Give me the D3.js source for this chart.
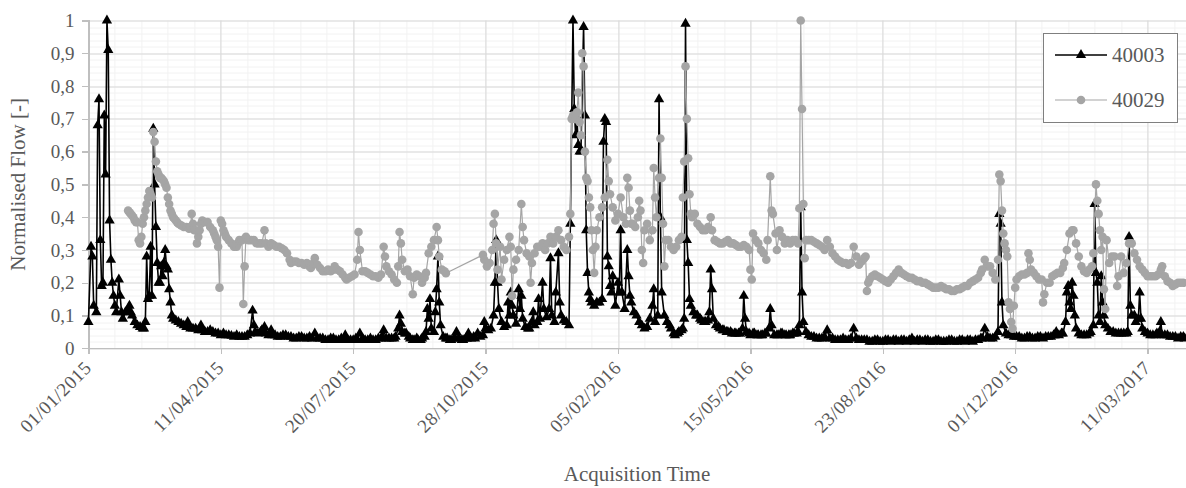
<!DOCTYPE html>
<html>
<head>
<meta charset="utf-8">
<script src="https://cdn.jsdelivr.net/npm/d3@7"></script>
<style>
  html, body { margin: 0; padding: 0; background: #fff; }
  svg { display: block; }
</style>
</head>
<body>
<div id="chart"></div>
<script>
// series names and x axis tick labels (dd/mm/yyyy)
const seriesNames = ["40003", "40029"];
const xTickLabels = ["01/01/2015", "11/04/2015", "20/07/2015", "28/10/2015", "05/02/2016",
  "15/05/2016", "23/08/2016", "01/12/2016", "11/03/2017"];
const yTickValues = [0, 0.1, 0.2, 0.3, 0.4, 0.5, 0.6, 0.7, 0.8, 0.9, 1];
const startLabel = "01/01/2015";
const endLabel = "09/04/2017";

// [days since 01/01/2015, normalised flow]
const flow40003 = [[0,0.08],[2,0.31],[3,0.28],[4,0.13],[6,0.11],[7,0.68],[8,0.76],[9,0.33],[10,0.19],[11,0.2],
  [12,0.71],[13,0.53],[14,1.0],[15,0.91],[16,0.39],[17,0.27],[18,0.2],[19,0.16],[20,0.13],[21,0.11],[23,0.21],
  [24,0.16],[25,0.11],[26,0.09],[28,0.11],[30,0.12],[31,0.13],[32,0.11],[33,0.1],[35,0.08],[37,0.07],[39,0.065],
  [41,0.06],[42,0.06],[43,0.08],[44,0.28],[45,0.15],[46,0.16],[47,0.31],[48,0.16],[49,0.67],[50,0.5],[51,0.37],
  [52,0.26],[53,0.2],[54,0.2],[55,0.25],[56,0.22],[57,0.26],[58,0.3],[59,0.25],[60,0.24],[61,0.18],[62,0.14],
  [63,0.1],[64,0.09],[66,0.085],[68,0.08],[70,0.075],[72,0.07],[74,0.065],[75,0.08],[77,0.06],[79,0.06],[81,0.06],
  [83,0.055],[85,0.07],[86,0.055],[88,0.05],[90,0.05],[92,0.055],[94,0.05],[96,0.045],[98,0.045],[100,0.04],
  [102,0.045],[104,0.04],[106,0.04],[108,0.038],[110,0.035],[112,0.04],[114,0.035],[116,0.035],[118,0.035],
  [120,0.04],[122,0.045],[124,0.115],[125,0.07],[126,0.05],[128,0.045],[130,0.05],[131,0.055],[133,0.065],
  [134,0.045],[136,0.04],[138,0.055],[139,0.04],[141,0.04],[143,0.035],[145,0.035],[147,0.04],[149,0.04],
  [151,0.035],[153,0.035],[155,0.03],[157,0.03],[159,0.035],[161,0.035],[163,0.03],[165,0.03],[167,0.035],
  [169,0.03],[171,0.045],[173,0.03],[175,0.03],[177,0.03],[179,0.025],[181,0.025],[183,0.03],[185,0.03],
  [187,0.025],[189,0.025],[191,0.03],[193,0.025],[194,0.04],[196,0.025],[198,0.025],[200,0.025],[202,0.03],
  [203,0.025],[205,0.045],[207,0.03],[209,0.025],[211,0.025],[213,0.03],[215,0.025],[217,0.025],[219,0.03],
  [221,0.03],[222,0.035],[223,0.055],[225,0.03],[227,0.03],[229,0.03],[231,0.03],[232,0.035],[234,0.06],
  [235,0.1],[236,0.075],[237,0.05],[239,0.045],[240,0.045],[242,0.035],[243,0.03],[245,0.025],[246,0.025],
  [248,0.03],[249,0.025],[251,0.025],[252,0.03],[254,0.035],[255,0.05],[256,0.12],[257,0.09],[258,0.15],
  [259,0.06],[261,0.05],[262,0.11],[263,0.18],[264,0.28],[265,0.14],[266,0.07],[268,0.035],[270,0.03],[271,0.03],
  [273,0.025],[274,0.025],[276,0.03],[277,0.03],[278,0.05],[280,0.03],[282,0.025],[283,0.025],[285,0.03],
  [286,0.03],[287,0.045],[289,0.03],[291,0.035],[292,0.03],[294,0.045],[296,0.035],[298,0.04],[299,0.08],
  [300,0.06],[302,0.055],[304,0.06],[306,0.1],[307,0.2],[308,0.33],[309,0.2],[310,0.12],[312,0.08],[314,0.065],
  [316,0.07],[317,0.14],[318,0.1],[319,0.17],[320,0.13],[321,0.1],[323,0.075],[325,0.18],[326,0.12],[327,0.16],
  [328,0.09],[330,0.065],[332,0.06],[333,0.06],[335,0.08],[336,0.11],[337,0.07],[339,0.08],[340,0.15],[341,0.09],
  [343,0.2],[344,0.12],[346,0.095],[348,0.12],[349,0.275],[350,0.1],[352,0.08],[353,0.17],[355,0.29],[356,0.14],
  [357,0.1],[359,0.085],[361,0.08],[363,0.07],[364,0.38],[366,1.0],[367,0.73],[368,0.65],[369,0.7],[370,0.62],
  [371,0.6],[372,0.6],[374,0.98],[375,0.71],[376,0.36],[377,0.23],[378,0.17],[379,0.15],[380,0.14],[382,0.13],
  [384,0.14],[386,0.14],[388,0.15],[389,0.63],[390,0.7],[391,0.69],[392,0.28],[393,0.25],[394,0.19],[395,0.17],
  [396,0.22],[398,0.13],[400,0.2],[401,0.17],[402,0.36],[403,0.17],[405,0.12],[407,0.3],[408,0.22],[409,0.16],
  [410,0.14],[412,0.11],[414,0.1],[416,0.08],[418,0.07],[420,0.06],[422,0.065],[424,0.09],[426,0.13],[427,0.18],
  [428,0.08],[430,0.1],[431,0.76],[432,0.4],[433,0.17],[435,0.1],[437,0.08],[439,0.07],[440,0.06],[442,0.045],
  [443,0.04],[445,0.045],[446,0.05],[448,0.055],[449,0.06],[450,0.09],[451,0.99],[452,0.33],[453,0.26],[454,0.15],
  [455,0.13],[457,0.11],[459,0.1],[460,0.1],[462,0.09],[463,0.085],[465,0.08],[466,0.08],[468,0.085],[469,0.11],
  [470,0.24],[471,0.18],[472,0.09],[474,0.07],[476,0.065],[477,0.06],[479,0.055],[480,0.055],[482,0.05],[483,0.05],
  [485,0.05],[486,0.045],[488,0.045],[489,0.045],[491,0.045],[492,0.045],[494,0.06],[495,0.16],[496,0.09],
  [497,0.05],[499,0.045],[500,0.04],[502,0.045],[503,0.045],[505,0.04],[506,0.04],[508,0.04],[509,0.04],
  [511,0.045],[512,0.045],[514,0.06],[515,0.12],[516,0.07],[518,0.04],[520,0.04],[521,0.04],[523,0.045],
  [524,0.045],[526,0.04],[527,0.04],[529,0.04],[530,0.04],[532,0.045],[533,0.045],[535,0.045],[536,0.05],
  [537,0.07],[538,0.43],[539,0.17],[540,0.08],[542,0.05],[544,0.04],[546,0.035],[548,0.035],[550,0.03],
  [552,0.03],[554,0.03],[556,0.035],[558,0.055],[560,0.03],[562,0.03],[564,0.025],[566,0.025],[568,0.025],
  [570,0.03],[572,0.025],[574,0.025],[576,0.03],[578,0.06],[580,0.03],[582,0.025],[584,0.025],[586,0.025],
  [588,0.025],[590,0.02],[592,0.02],[594,0.025],[596,0.025],[598,0.02],[600,0.02],[602,0.025],[604,0.025],
  [606,0.02],[608,0.025],[610,0.025],[612,0.02],[614,0.025],[616,0.025],[618,0.02],[620,0.025],[622,0.03],
  [624,0.02],[626,0.025],[628,0.025],[630,0.02],[632,0.025],[634,0.025],[636,0.02],[638,0.02],[640,0.025],
  [642,0.025],[644,0.02],[646,0.02],[648,0.02],[650,0.025],[652,0.025],[654,0.02],[656,0.02],[658,0.025],
  [660,0.025],[662,0.02],[664,0.025],[666,0.025],[668,0.02],[670,0.025],[672,0.025],[674,0.03],[675,0.03],
  [677,0.06],[679,0.035],[681,0.03],[683,0.03],[685,0.035],[687,0.05],[688,0.41],[689,0.38],[690,0.14],[691,0.07],
  [693,0.045],[695,0.04],[697,0.04],[699,0.035],[701,0.035],[703,0.035],[705,0.03],[707,0.03],[709,0.035],
  [711,0.035],[713,0.03],[715,0.03],[717,0.035],[719,0.035],[721,0.03],[723,0.035],[725,0.035],[727,0.035],
  [729,0.04],[730,0.04],[731,0.05],[733,0.04],[735,0.045],[736,0.045],[738,0.08],[739,0.17],[740,0.19],[741,0.14],
  [742,0.12],[743,0.2],[744,0.16],[745,0.1],[746,0.06],[748,0.045],[750,0.04],[752,0.04],[754,0.04],[756,0.045],
  [757,0.05],[759,0.07],[760,0.44],[761,0.23],[762,0.2],[763,0.1],[764,0.08],[765,0.22],[766,0.14],[767,0.1],
  [768,0.07],[770,0.06],[772,0.05],[774,0.05],[776,0.045],[778,0.045],[780,0.045],[782,0.045],[784,0.045],
  [785,0.05],[786,0.34],[787,0.13],[788,0.1],[790,0.1],[791,0.08],[793,0.09],[794,0.17],[795,0.09],[796,0.06],
  [798,0.05],[800,0.045],[802,0.04],[804,0.04],[806,0.04],[807,0.045],[809,0.05],[810,0.08],[811,0.04],[813,0.04],
  [815,0.04],[817,0.035],[819,0.035],[821,0.035],[823,0.03],[825,0.035],[827,0.035],[828,0.03]];

const flow40029 = [[30,0.42],[31,0.415],[32,0.41],[33,0.405],[34,0.4],[35,0.39],[36,0.385],[37,0.385],[38,0.33],
  [39,0.32],[40,0.34],[41,0.38],[42,0.4],[43,0.42],[44,0.44],[45,0.46],[46,0.48],[47,0.47],[48,0.46],[49,0.66],
  [50,0.63],[51,0.57],[52,0.54],[53,0.53],[54,0.52],[55,0.52],[56,0.515],[57,0.51],[58,0.5],[59,0.49],[60,0.46],
  [61,0.44],[62,0.42],[63,0.41],[64,0.4],[65,0.395],[66,0.39],[67,0.385],[68,0.38],[70,0.375],[72,0.37],[74,0.37],
  [76,0.365],[77,0.37],[78,0.41],[79,0.38],[80,0.36],[81,0.36],[82,0.32],[83,0.34],[84,0.36],[85,0.38],[86,0.39],
  [88,0.385],[90,0.385],[92,0.37],[94,0.36],[95,0.35],[96,0.34],[97,0.33],[98,0.31],[99,0.185],[100,0.39],
  [101,0.38],[102,0.36],[103,0.35],[104,0.34],[106,0.33],[108,0.32],[110,0.31],[112,0.31],[113,0.32],[114,0.33],
  [116,0.33],[117,0.135],[118,0.25],[119,0.34],[121,0.33],[123,0.33],[125,0.33],[127,0.32],[129,0.32],[131,0.32],
  [133,0.36],[134,0.32],[136,0.31],[138,0.32],[140,0.315],[142,0.31],[144,0.31],[146,0.305],[148,0.3],[150,0.29],
  [152,0.27],[153,0.26],[155,0.265],[157,0.265],[159,0.26],[161,0.26],[163,0.255],[165,0.26],[167,0.25],
  [168,0.245],[170,0.26],[171,0.275],[173,0.255],[175,0.245],[177,0.235],[179,0.235],[181,0.24],[183,0.235],
  [185,0.24],[186,0.25],[188,0.24],[190,0.235],[192,0.225],[194,0.215],[195,0.21],[197,0.215],[199,0.22],
  [201,0.225],[203,0.27],[204,0.355],[205,0.3],[207,0.235],[209,0.235],[211,0.23],[213,0.225],[215,0.22],
  [217,0.22],[219,0.215],[221,0.225],[223,0.31],[224,0.28],[225,0.25],[227,0.235],[229,0.225],[231,0.21],
  [233,0.2],[234,0.25],[235,0.355],[236,0.32],[237,0.27],[239,0.235],[241,0.24],[243,0.22],[245,0.165],
  [246,0.215],[248,0.225],[250,0.22],[252,0.2],[254,0.215],[255,0.23],[257,0.29],[259,0.31],[261,0.33],[263,0.37],
  [264,0.33],[265,0.28],[267,0.24],[269,0.235],[270,0.229],[298,0.285],[299,0.27],[301,0.25],[303,0.26],[305,0.3],
  [306,0.38],[307,0.41],[308,0.32],[309,0.24],[311,0.31],[312,0.21],[314,0.27],[316,0.3],[318,0.34],[319,0.31],
  [320,0.16],[321,0.24],[323,0.27],[325,0.3],[327,0.44],[328,0.37],[329,0.33],[331,0.29],[333,0.28],[334,0.2],
  [335,0.26],[337,0.29],[339,0.31],[341,0.31],[343,0.32],[345,0.3],[347,0.32],[349,0.34],[351,0.32],[353,0.34],
  [355,0.36],[357,0.33],[359,0.31],[361,0.3],[363,0.34],[364,0.41],[365,0.7],[366,0.71],[367,0.7],[368,0.7],
  [369,0.72],[370,0.78],[371,0.69],[372,0.65],[373,0.9],[374,0.86],[375,0.6],[376,0.52],[377,0.51],[378,0.46],
  [379,0.43],[380,0.36],[381,0.3],[382,0.23],[383,0.31],[384,0.36],[386,0.4],[388,0.43],[390,0.46],[392,0.575],
  [393,0.51],[394,0.47],[396,0.43],[398,0.39],[400,0.41],[402,0.46],[404,0.4],[406,0.38],[407,0.52],[408,0.49],
  [409,0.42],[410,0.38],[411,0.38],[413,0.37],[415,0.4],[416,0.45],[417,0.42],[418,0.3],[419,0.26],[420,0.36],
  [422,0.38],[424,0.33],[426,0.36],[427,0.55],[428,0.46],[429,0.4],[431,0.52],[432,0.64],[433,0.52],[434,0.38],
  [435,0.25],[436,0.33],[438,0.33],[440,0.31],[442,0.3],[444,0.31],[446,0.33],[448,0.34],[449,0.46],[450,0.57],
  [451,0.86],[452,0.7],[453,0.58],[454,0.47],[455,0.41],[456,0.4],[458,0.41],[460,0.38],[462,0.37],[464,0.36],
  [466,0.36],[468,0.37],[470,0.4],[471,0.36],[473,0.33],[475,0.325],[477,0.32],[479,0.32],[481,0.325],[483,0.33],
  [485,0.32],[487,0.32],[489,0.315],[491,0.31],[493,0.31],[495,0.315],[497,0.31],[499,0.3],[500,0.24],[501,0.21],
  [502,0.35],[504,0.33],[506,0.32],[508,0.3],[510,0.29],[512,0.27],[513,0.33],[515,0.525],[516,0.42],[517,0.41],
  [519,0.35],[520,0.3],[522,0.36],[524,0.34],[526,0.32],[528,0.33],[530,0.32],[532,0.33],[534,0.33],[536,0.32],
  [537,0.427],[538,1.0],[539,0.73],[540,0.44],[541,0.275],[542,0.33],[544,0.33],[546,0.33],[548,0.325],[550,0.32],
  [552,0.315],[554,0.31],[556,0.3],[558,0.33],[560,0.31],[562,0.29],[564,0.28],[566,0.27],[568,0.265],[570,0.26],
  [572,0.26],[574,0.255],[576,0.26],[578,0.31],[580,0.28],[582,0.255],[584,0.265],[586,0.275],[587,0.28],
  [588,0.175],[589,0.2],[590,0.21],[592,0.22],[594,0.225],[596,0.22],[598,0.215],[600,0.21],[602,0.205],[604,0.2],
  [606,0.21],[608,0.22],[610,0.23],[612,0.24],[614,0.23],[616,0.225],[618,0.22],[620,0.215],[622,0.215],[624,0.21],
  [626,0.205],[628,0.205],[630,0.2],[632,0.2],[634,0.195],[636,0.19],[638,0.185],[640,0.185],[642,0.185],
  [644,0.19],[646,0.185],[648,0.18],[650,0.18],[652,0.175],[654,0.175],[656,0.18],[658,0.18],[660,0.185],
  [662,0.19],[664,0.19],[666,0.2],[668,0.205],[670,0.21],[672,0.215],[674,0.23],[675,0.24],[677,0.27],[679,0.25],
  [681,0.25],[683,0.23],[685,0.21],[687,0.27],[688,0.53],[689,0.51],[690,0.42],[691,0.35],[692,0.32],[693,0.3],
  [694,0.28],[695,0.14],[696,0.12],[697,0.08],[698,0.06],[699,0.13],[700,0.185],[701,0.21],[703,0.22],[705,0.225],
  [707,0.225],[709,0.23],[710,0.29],[711,0.27],[712,0.24],[714,0.23],[716,0.22],[718,0.21],[720,0.21],[721,0.14],
  [722,0.165],[724,0.2],[726,0.2],[728,0.22],[730,0.225],[732,0.23],[734,0.23],[736,0.245],[737,0.26],[739,0.3],
  [741,0.35],[743,0.36],[744,0.36],[746,0.32],[748,0.28],[750,0.25],[752,0.235],[754,0.23],[756,0.24],[758,0.25],
  [759,0.29],[761,0.5],[762,0.45],[763,0.41],[764,0.36],[765,0.3],[766,0.34],[767,0.18],[768,0.12],[769,0.33],
  [771,0.26],[773,0.28],[775,0.28],[777,0.19],[778,0.22],[780,0.28],[782,0.23],[784,0.26],[786,0.32],[788,0.32],
  [790,0.29],[792,0.27],[794,0.25],[796,0.24],[798,0.23],[800,0.22],[802,0.22],[804,0.22],[806,0.22],[808,0.225],
  [810,0.24],[811,0.25],[813,0.22],[815,0.205],[817,0.2],[819,0.19],[821,0.195],[823,0.2],[825,0.2],[827,0.2]];

const parseDate = d3.utcParse("%d/%m/%Y");
const startDate = parseDate(startLabel);
const toPoints = rows => rows.map(r => ({ date: d3.utcDay.offset(startDate, r[0]), value: r[1] }));
const series = [
  { name: seriesNames[0], points: toPoints(flow40003), color: "#000000", lineWidth: 1.6, marker: "triangle" },
  { name: seriesNames[1], points: toPoints(flow40029), color: "#a5a5a5", lineWidth: 1.2, marker: "circle" }
];

// chart dimensions
const W = 1186, H = 488;
const margin = { top: 20.5, right: 0, bottom: 139.7, left: 88.4 };
const width = W - margin.left - margin.right;
const height = H - margin.top - margin.bottom;
const fontFamily = "'Liberation Serif', 'DejaVu Serif', serif";
const textColor = "#595959";

const svg = d3.select("#chart").append("svg")
  .attr("width", W)
  .attr("height", H);

const g = svg.append("g")
  .attr("transform", "translate(" + margin.left + "," + margin.top + ")");

const x = d3.scaleUtc()
  .domain([startDate, parseDate(endLabel)])
  .range([0, width]);

const y = d3.scaleLinear()
  .domain([0, 1])
  .range([height, 0]);

// minor gridlines (every 0.02 / 20 days)
const minorY = d3.range(0, 1.0001, 0.02);
const minorX = d3.utcDay.range(startDate, parseDate(endLabel), 1).filter((d, i) => i % 20 === 0);

g.selectAll("line.minor-h")
  .data(minorY)
  .enter().append("line")
  .attr("class", "minor-h")
  .attr("x1", 0).attr("x2", width)
  .attr("y1", d => Math.round(y(d)) + 0.5).attr("y2", d => Math.round(y(d)) + 0.5)
  .style("stroke", "#f2f2f2");

g.selectAll("line.minor-v")
  .data(minorX)
  .enter().append("line")
  .attr("class", "minor-v")
  .attr("x1", d => Math.round(x(d)) + 0.5).attr("x2", d => Math.round(x(d)) + 0.5)
  .attr("y1", 0).attr("y2", height)
  .style("stroke", "#f2f2f2");

// major gridlines
const xTickDates = xTickLabels.map(parseDate);

g.selectAll("line.major-h")
  .data(yTickValues)
  .enter().append("line")
  .attr("class", "major-h")
  .attr("x1", 0).attr("x2", width)
  .attr("y1", d => Math.round(y(d)) + 0.5).attr("y2", d => Math.round(y(d)) + 0.5)
  .style("stroke", "#d9d9d9");

g.selectAll("line.major-v")
  .data(xTickDates)
  .enter().append("line")
  .attr("class", "major-v")
  .attr("x1", d => Math.round(x(d)) + 0.5).attr("x2", d => Math.round(x(d)) + 0.5)
  .attr("y1", 0).attr("y2", height)
  .style("stroke", "#d9d9d9");

// axes
const yAxis = d3.axisLeft(y)
  .tickValues(yTickValues)
  .tickSize(6)
  .tickPadding(8)
  .tickFormat(d => d === 0 ? "0" : d === 1 ? "1" : d3.format(".1f")(d).replace(".", ","));

const xAxis = d3.axisBottom(x)
  .tickValues(xTickDates)
  .tickSize(6)
  .tickFormat(d3.utcFormat("%d/%m/%Y"));

const gy = g.append("g")
  .attr("class", "y axis")
  .call(yAxis);

const gx = g.append("g")
  .attr("class", "x axis")
  .attr("transform", "translate(0," + height + ")")
  .call(xAxis);

svg.selectAll(".axis path, .axis line")
  .style("stroke", "#bfbfbf")
  .style("stroke-width", "1.3px")
  .attr("shape-rendering", "crispEdges");

svg.selectAll(".axis").attr("font-family", fontFamily);

svg.selectAll(".axis text")
  .style("font-family", fontFamily)
  .style("font-size", "19px")
  .style("fill", textColor);

gx.selectAll(".tick text")
  .style("text-anchor", "end")
  .style("letter-spacing", "0.5px")
  .attr("x", 0)
  .attr("y", 0)
  .attr("dy", "0.35em")
  .attr("transform", "translate(-1,16) rotate(-45)");

// series lines and markers
const line = d3.line()
  .x(d => x(d.date))
  .y(d => y(d.value));

const triangle = d3.symbol().type(d3.symbolTriangle).size(46);

series.forEach(s => {
  g.append("path")
    .datum(s.points)
    .attr("fill", "none")
    .attr("stroke", s.color)
    .attr("stroke-width", s.lineWidth)
    .attr("stroke-linejoin", "round")
    .attr("d", line);

  if (s.marker === "triangle") {
    g.selectAll(".m" + s.name)
      .data(s.points)
      .enter().append("path")
      .attr("class", "m" + s.name)
      .attr("transform", d => "translate(" + x(d.date) + "," + y(d.value) + ")")
      .attr("d", triangle)
      .attr("fill", s.color);
  } else {
    g.selectAll(".m" + s.name)
      .data(s.points)
      .enter().append("circle")
      .attr("class", "m" + s.name)
      .attr("cx", d => x(d.date))
      .attr("cy", d => y(d.value))
      .attr("r", 4.3)
      .attr("fill", s.color);
  }
});

// axis titles
svg.append("text")
  .attr("transform", "translate(25," + (margin.top + height / 2) + ") rotate(-90)")
  .attr("text-anchor", "middle")
  .style("font-family", fontFamily)
  .style("font-size", "21px")
  .style("fill", textColor)
  .text("Normalised Flow [-]");

svg.append("text")
  .attr("x", 637)
  .attr("y", 481)
  .attr("text-anchor", "middle")
  .style("font-family", fontFamily)
  .style("font-size", "21px")
  .style("fill", textColor)
  .text("Acquisition Time");

// legend
const legend = svg.append("g").attr("class", "legend");

legend.append("rect")
  .attr("x", 1043.5).attr("y", 33.5)
  .attr("width", 134).attr("height", 89)
  .attr("fill", "#fff")
  .attr("stroke", "#7f7f7f");

series.forEach((s, i) => {
  const ly = 55 + i * 45;
  legend.append("line")
    .attr("x1", 1055).attr("x2", 1107)
    .attr("y1", ly).attr("y2", ly)
    .attr("stroke", s.color)
    .attr("stroke-width", s.lineWidth);
  if (s.marker === "triangle") {
    legend.append("path")
      .attr("transform", "translate(1081," + ly + ")")
      .attr("d", triangle)
      .attr("fill", s.color);
  } else {
    legend.append("circle")
      .attr("cx", 1081).attr("cy", ly).attr("r", 4.3)
      .attr("fill", s.color);
  }
  legend.append("text")
    .attr("x", 1112).attr("y", ly)
    .attr("dy", "0.35em")
    .style("font-family", fontFamily)
    .style("font-size", "21px")
    .style("fill", textColor)
    .text(s.name);
});
</script>
</body>
</html>
